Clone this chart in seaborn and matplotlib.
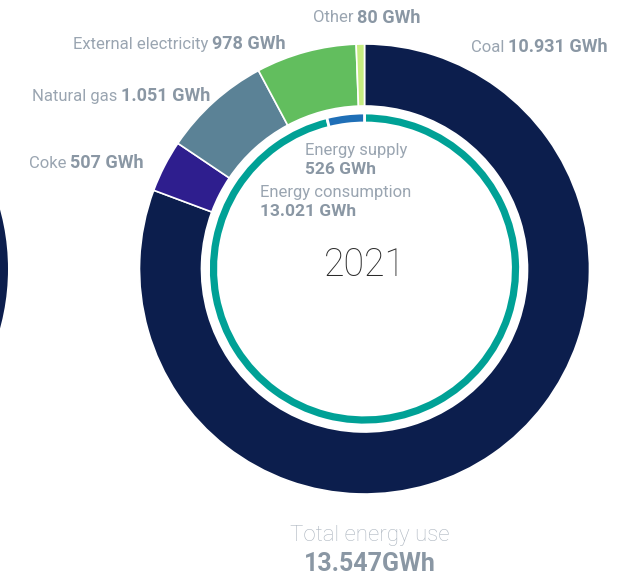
"""
Total energy use 2021 - donut chart (outer: energy sources, inner: supply vs consumption)
"""

import matplotlib
matplotlib.use('Agg')
import matplotlib.pyplot as plt
import seaborn as sns

sns.set_theme(style="white")
plt.rcParams['font.family'] = ['Roboto', 'DejaVu Sans']

# Data (GWh)
source_names = ['Coal', 'Coke', 'Natural gas', 'External electricity', 'Other']
source_values = [10931, 507, 1051, 978, 80]
source_labels = ['10.931 GWh', '507 GWh', '1.051 GWh', '978 GWh', '80 GWh']
source_colors = ['#0c1e4d', '#2e1e8e', '#5b8296', '#62be5e', '#c6ed80']

use_names = ['Energy consumption', 'Energy supply']
use_values = [13021, 526]
use_labels = ['13.021 GWh', '526 GWh']
use_colors = ['#00a196', '#1f6fb7']

year = '2021'
total_label = '13.547GWh'
prev_year_values = [1]  # edge of the previous year's donut, only coal visible

W, H = 630, 578
LIGHT = '#9aa5b1'
BOLD = '#8a97a4'


def Y(py):
    """pixel row -> data y"""
    return H - py


fig = plt.figure(figsize=(W / 100, H / 100), dpi=100)
ax = fig.add_axes([0, 0, 1, 1])

cx, cy = 364.5, Y(269)

# outer ring: energy sources
ax.pie(source_values, colors=source_colors, radius=225, center=(cx, cy),
       startangle=90, counterclock=False,
       wedgeprops=dict(width=62, edgecolor='white', linewidth=1.2))

# inner thin ring: consumption / supply
ax.pie(use_values, colors=use_colors, radius=156, center=(cx, cy),
       startangle=90, counterclock=False,
       wedgeprops=dict(width=10, edgecolor='white', linewidth=2))

# previous year donut cut off at the left edge
ax.pie(prev_year_values, colors=[source_colors[0]], radius=225, center=(-217, cy),
       wedgeprops=dict(width=62, edgecolor='none'))

ax.set_xlim(0, W)
ax.set_ylim(0, H)
ax.set_aspect('equal')
ax.axis('off')

# outer labels: light name + bold value, joined at x
label_pos = {
    'Coal': (508, 47),
    'Coke': (70, 163),
    'Natural gas': (121, 96),
    'External electricity': (212, 44),
    'Other': (357, 18),
}
for name, val in zip(source_names, source_labels):
    x, py = label_pos[name]
    ax.text(x - 4, Y(py), name, ha='right', va='center', fontsize=12,
            color=LIGHT, fontweight='normal')
    ax.text(x, Y(py), val, ha='left', va='center', fontsize=13,
            color=BOLD, fontweight='bold')

# inner labels
inner_pos = {'Energy supply': (305, 150), 'Energy consumption': (260, 192)}
for name, val in zip(use_names, use_labels):
    x, py = inner_pos[name]
    ax.text(x, Y(py), name, ha='left', va='center', fontsize=12,
            color=LIGHT, fontweight='normal')
    ax.text(x, Y(py + 19), val, ha='left', va='center', fontsize=12.5,
            color=BOLD, fontweight='bold')

ax.text(cx, Y(265), year, ha='center', va='center', fontsize=27,
        color='#2b2b2b', fontweight='light')

ax.text(370, Y(535), 'Total energy use', ha='center', va='center', fontsize=16,
        color='#adb6c0', fontweight='light')
ax.text(370, Y(564), total_label, ha='center', va='center', fontsize=18,
        color=BOLD, fontweight='bold')

fig.savefig('out.png', dpi=100, facecolor='white')
